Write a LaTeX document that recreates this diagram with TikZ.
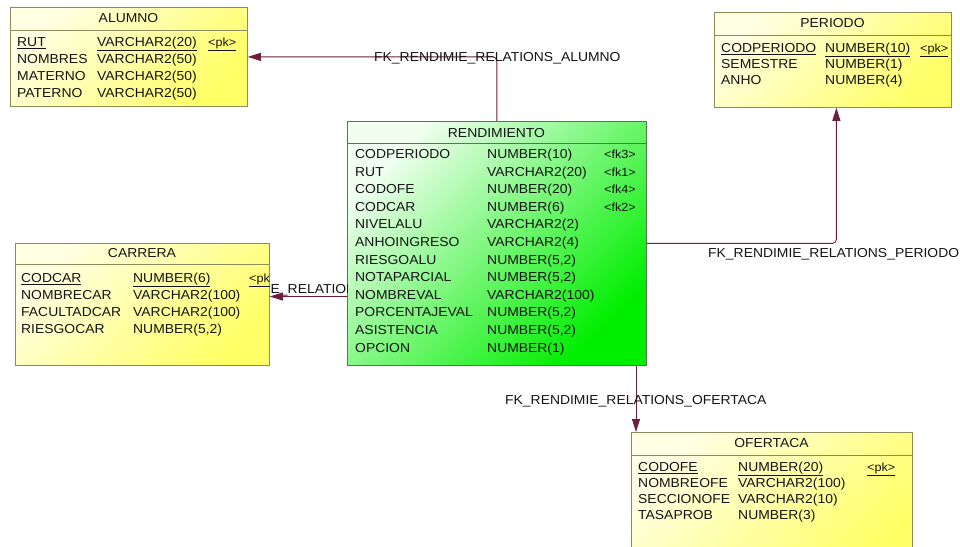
\documentclass[tikz,border=0pt]{standalone}
\usepackage{fontspec}
\setmainfont[FakeStretch=1.07]{Liberation Sans}
\usetikzlibrary{arrows.meta}
\definecolor{ylight}{HTML}{FFFFE4}
\definecolor{ydark}{HTML}{FFFF66}
\definecolor{yborder}{HTML}{8C8C5A}
\definecolor{glight}{HTML}{F0FFF0}
\definecolor{gdark}{HTML}{00EE00}
\definecolor{gborder}{HTML}{4E7A4E}
\definecolor{fkcol}{HTML}{6E1E3C}
\definecolor{txt}{HTML}{141414}
\begin{document}
\begin{tikzpicture}[x=1pt,y=-1pt,
  font=\fontsize{13}{15}\selectfont,
  ybox/.style={draw=yborder, line width=0.8pt, top color=ylight, bottom color=ydark, shading angle=45, anchor=north west, inner sep=0pt},
  gbox/.style={draw=gborder, line width=0.8pt, top color=glight, bottom color=gdark, shading angle=45, anchor=north west, inner sep=0pt},
  ysep/.style={draw=yborder, line width=0.8pt},
  gsep/.style={draw=gborder, line width=0.8pt},
  cell/.style={anchor=base west, inner sep=0pt, text=txt},
  tag/.style={anchor=base west, inner sep=0pt, text=txt, font=\fontsize{11.8}{14}\selectfont},
  ttl/.style={anchor=base, inner sep=0pt, text=txt},
  lbl/.style={anchor=base west, inner sep=0pt, text=txt},
  fk/.style={draw=fkcol, line width=0.9pt, rounded corners=4pt, -{Triangle[length=13pt,width=8pt]}}
]
\clip (0,0) rectangle (960,546);
\fill[white] (0,0) rectangle (960,546);

% boxes
\node[ybox, minimum width=237pt, minimum height=99pt] (alumno) at (10,7) {};
\node[ybox, minimum width=237pt, minimum height=95pt] (periodo) at (714,12) {};
\node[gbox, minimum width=299pt, minimum height=244pt] (rend) at (347,121) {};
\node[ybox, minimum width=254pt, minimum height=122pt] (carrera) at (15,243) {};
\node[ybox, minimum width=281pt, minimum height=140pt] (ofertaca) at (631,432) {};

% separators
\draw[ysep] ([yshift=-23pt]alumno.north west) -- ([yshift=-23pt]alumno.north east);
\draw[ysep] ([yshift=-23pt]periodo.north west) -- ([yshift=-23pt]periodo.north east);
\draw[gsep] ([yshift=-22pt]rend.north west) -- ([yshift=-22pt]rend.north east);
\draw[ysep] ([yshift=-21pt]carrera.north west) -- ([yshift=-21pt]carrera.north east);
\draw[ysep] ([yshift=-23pt]ofertaca.north west) -- ([yshift=-23pt]ofertaca.north east);

% ALUMNO
\node[ttl] (alT) at (128.5,22.5) {ALUMNO};
\node[cell] (al1a) at (17,46.5) {\underline{RUT}};
\node[cell] (al1b) at (97,46.5) {\underline{VARCHAR2(20)}};
\node[tag] (al1c) at (208,46.5) {\underline{<pk>}};
\node[cell] (al2a) at (17,63.5) {NOMBRES};
\node[cell] (al2b) at (97,63.5) {VARCHAR2(50)};
\node[cell] (al3a) at (17,80.5) {MATERNO};
\node[cell] (al3b) at (97,80.5) {VARCHAR2(50)};
\node[cell] (al4a) at (17,97.5) {PATERNO};
\node[cell] (al4b) at (97,97.5) {VARCHAR2(50)};

% PERIODO
\node[ttl] (peT) at (832.5,27.5) {PERIODO};
\node[cell] (pe1a) at (721,52.5) {\underline{CODPERIODO}};
\node[cell] (pe1b) at (825,52.5) {\underline{NUMBER(10)}};
\node[tag] (pe1c) at (920,52.5) {\underline{<pk>}};
\node[cell] (pe2a) at (721,68.5) {SEMESTRE};
\node[cell] (pe2b) at (825,68.5) {NUMBER(1)};
\node[cell] (pe3a) at (721,84.5) {ANHO};
\node[cell] (pe3b) at (825,84.5) {NUMBER(4)};

% RENDIMIENTO
\node[ttl] (reT) at (496.5,137.5) {RENDIMIENTO};
\node[cell] (r1a) at (355,158.5) {CODPERIODO};
\node[cell] (r1b) at (487,158.5) {NUMBER(10)};
\node[tag] (r1c) at (604,158.5) {<fk3>};
\node[cell] (r2a) at (355,176.1) {RUT};
\node[cell] (r2b) at (487,176.1) {VARCHAR2(20)};
\node[tag] (r2c) at (604,176.1) {<fk1>};
\node[cell] (r3a) at (355,193.7) {CODOFE};
\node[cell] (r3b) at (487,193.7) {NUMBER(20)};
\node[tag] (r3c) at (604,193.7) {<fk4>};
\node[cell] (r4a) at (355,211.3) {CODCAR};
\node[cell] (r4b) at (487,211.3) {NUMBER(6)};
\node[tag] (r4c) at (604,211.3) {<fk2>};
\node[cell] (r5a) at (355,228.9) {NIVELALU};
\node[cell] (r5b) at (487,228.9) {VARCHAR2(2)};
\node[cell] (r6a) at (355,246.5) {ANHOINGRESO};
\node[cell] (r6b) at (487,246.5) {VARCHAR2(4)};
\node[cell] (r7a) at (355,264.1) {RIESGOALU};
\node[cell] (r7b) at (487,264.1) {NUMBER(5,2)};
\node[cell] (r8a) at (355,281.7) {NOTAPARCIAL};
\node[cell] (r8b) at (487,281.7) {NUMBER(5,2)};
\node[cell] (r9a) at (355,299.3) {NOMBREVAL};
\node[cell] (r9b) at (487,299.3) {VARCHAR2(100)};
\node[cell] (r10a) at (355,316.9) {PORCENTAJEVAL};
\node[cell] (r10b) at (487,316.9) {NUMBER(5,2)};
\node[cell] (r11a) at (355,334.5) {ASISTENCIA};
\node[cell] (r11b) at (487,334.5) {NUMBER(5,2)};
\node[cell] (r12a) at (355,352.1) {OPCION};
\node[cell] (r12b) at (487,352.1) {NUMBER(1)};

% CARRERA
\node[ttl] (caT) at (142,257.5) {CARRERA};
\begin{scope}
\clip (carrera.south west) rectangle (carrera.north east);
\node[tag] (ca1c) at (249,282.5) {\underline{<pk>}};
\end{scope}
\node[cell] (ca1a) at (21,282.5) {\underline{CODCAR}};
\node[cell] (ca1b) at (133,282.5) {\underline{NUMBER(6)}};
\node[cell] (ca2a) at (21,299.5) {NOMBRECAR};
\node[cell] (ca2b) at (133,299.5) {VARCHAR2(100)};
\node[cell] (ca3a) at (21,316.5) {FACULTADCAR};
\node[cell] (ca3b) at (133,316.5) {VARCHAR2(100)};
\node[cell] (ca4a) at (21,333.5) {RIESGOCAR};
\node[cell] (ca4b) at (133,333.5) {NUMBER(5,2)};

% OFERTACA
\node[ttl] (ofT) at (771.5,447.5) {OFERTACA};
\node[cell] (of1a) at (638,471.5) {\underline{CODOFE}};
\node[cell] (of1b) at (738,471.5) {\underline{NUMBER(20)}};
\node[tag] (of1c) at (867,471.5) {\underline{<pk>}};
\node[cell] (of2a) at (638,487.5) {NOMBREOFE};
\node[cell] (of2b) at (738,487.5) {VARCHAR2(100)};
\node[cell] (of3a) at (638,503.5) {SECCIONOFE};
\node[cell] (of3b) at (738,503.5) {VARCHAR2(10)};
\node[cell] (of4a) at (638,519.5) {TASAPROB};
\node[cell] (of4b) at (738,519.5) {NUMBER(3)};

% partly hidden label between CARRERA and RENDIMIENTO
\begin{scope}
\clip (carrera.east |- 0,275) rectangle (rend.west |- 0,300);
\node[lbl] (lcar) at (270.5,293.5) {E\_RELATION};
\end{scope}

% connectors
\draw[fk] (rend.north) |- (alumno.east);
\draw[fk] (rend.east) -| ([xshift=3.5pt]periodo.south);
\draw[fk] (rend.west |- 0,296.5) -- (carrera.east |- 0,296.5);
\draw[fk] (rend.south -| 636,0) -- (ofertaca.north -| 636,0);

% labels
\node[lbl] (lal) at (374,61) {FK\_RENDIMIE\_RELATIONS\_ALUMNO};
\node[lbl] (lpe) at (708,257.5) {FK\_RENDIMIE\_RELATIONS\_PERIODO};
\node[lbl] (lof) at (505,404.5) {FK\_RENDIMIE\_RELATIONS\_OFERTACA};
\end{tikzpicture}
\end{document}
